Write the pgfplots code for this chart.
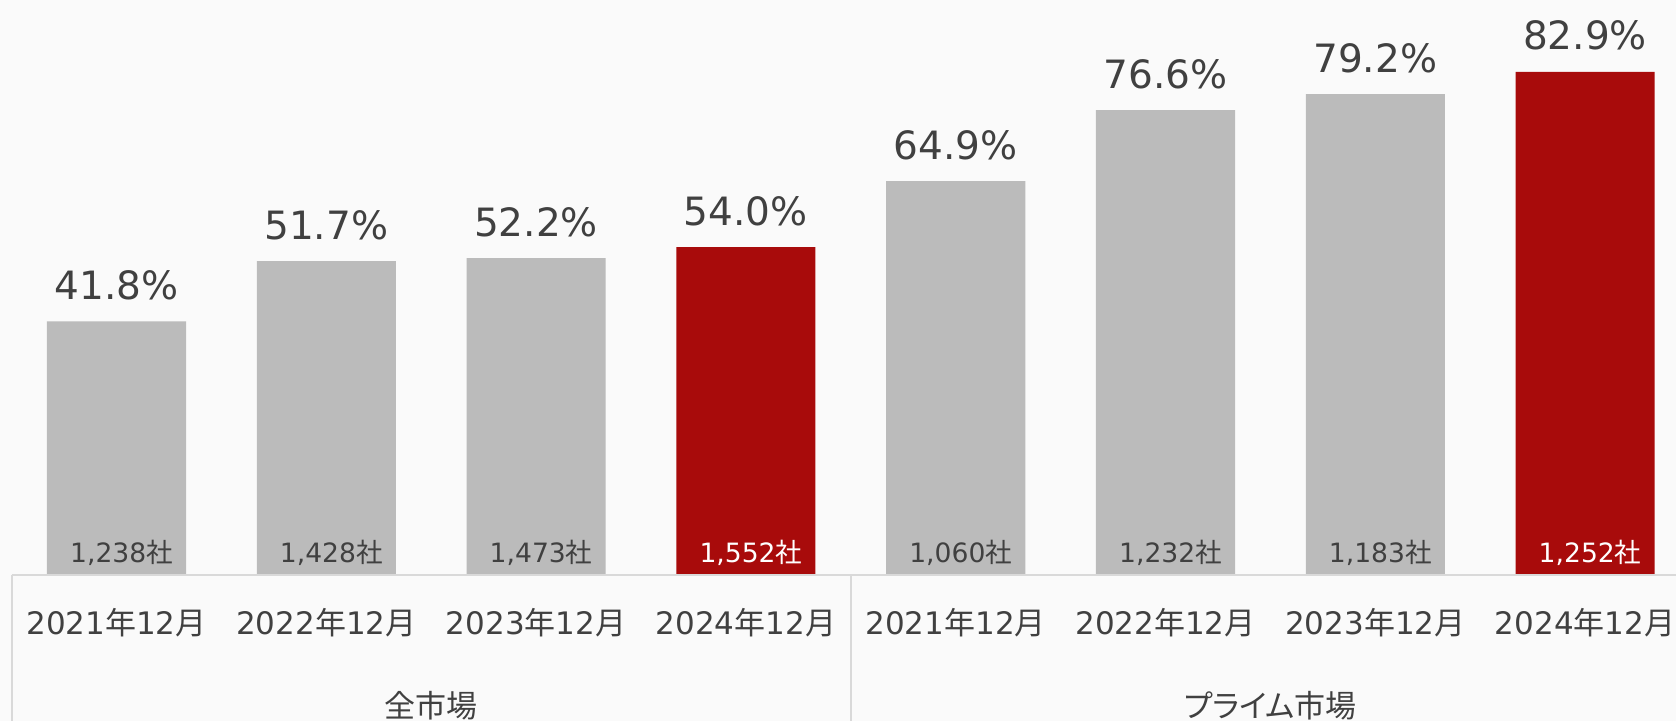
\documentclass[border=0pt]{standalone}
\usepackage{fontspec}
\setmainfont{DejaVu Sans}
\newfontfamily\cjk[RawFeature=+palt]{Noto Sans CJK JP}
\usepackage{pgfplots}
\pgfplotsset{compat=1.18}
\definecolor{bg}{RGB}{250,250,250}
\definecolor{barg}{RGB}{187,187,187}
\definecolor{barr}{RGB}{168,11,11}
\definecolor{txt}{RGB}{64,64,64}
\definecolor{ln}{RGB}{217,217,217}
\newcommand{\ym}[1]{#1{\cjk 年}12{\cjk 月}}
\begin{document}
\begin{tikzpicture}[x=1pt,y=1pt]
\fill[bg] (0,0) rectangle (838,360.5);
\begin{axis}[
  at={(5.8pt,73pt)}, anchor=south west,
  width=839.2pt, height=273.15pt, scale only axis,
  xmin=-0.5, xmax=7.5, ymin=0, ymax=90,
  clip=false,
  axis line style={draw=none}, tick style={draw=none},
  ytick=\empty,
  xtick={0,...,7},
  xticklabels={{\ym{2021}},{\ym{2022}},{\ym{2023}},{\ym{2024}},{\ym{2021}},{\ym{2022}},{\ym{2023}},{\ym{2024}}},
  xticklabel style={font=\fontsize{15.5}{18}\selectfont, text=txt, anchor=base, yshift=-30pt},
  /pgf/number format/assume math mode=true,
]
\addplot[ybar, bar width=0.663, bar shift=0pt, fill=barg, draw=none,
  nodes near coords={\pgfmathprintnumber[fixed,fixed zerofill,precision=1]{\pgfplotspointmeta}\%},
  every node near coord/.append style={font=\fontsize{19.5}{22}\selectfont, text=txt, anchor=base, yshift=11pt}]
  coordinates {(0,41.8) (1,51.7) (2,52.2) (4,64.9) (5,76.6) (6,79.2)};
\addplot[ybar, bar width=0.663, bar shift=0pt, fill=barr, draw=none,
  nodes near coords={\pgfmathprintnumber[fixed,fixed zerofill,precision=1]{\pgfplotspointmeta}\%},
  every node near coord/.append style={font=\fontsize{19.5}{22}\selectfont, text=txt, anchor=base, yshift=11pt}]
  coordinates {(3,54.0) (7,82.9)};
\addplot[draw=none, mark=none, point meta=explicit symbolic,
  nodes near coords={\pgfplotspointmeta{\cjk 社}},
  every node near coord/.append style={font=\fontsize{13.3}{16}\selectfont, text=txt, anchor=base, yshift=6pt, xshift=2.5pt}]
  table[meta=l, row sep=\\] {x y l\\ 0 0 1,238\\ 1 0 1,428\\ 2 0 1,473\\ 4 0 1,060\\ 5 0 1,232\\ 6 0 1,183\\};
\addplot[draw=none, mark=none, point meta=explicit symbolic,
  nodes near coords={\pgfplotspointmeta{\cjk 社}},
  every node near coord/.append style={font=\fontsize{13.3}{16}\selectfont, text=white, anchor=base, yshift=6pt, xshift=2.5pt}]
  table[meta=l, row sep=\\] {x y l\\ 3 0 1,552\\ 7 0 1,252\\};
\draw[ln, line width=1pt] (axis cs:-0.5,0) -- (axis cs:7.5,0);
\draw[ln, line width=1pt] (axis cs:-0.5,0) -- (axis cs:-0.5,-25);
\draw[ln, line width=1pt] (axis cs:3.5,0) -- (axis cs:3.5,-25);
\node[font=\cjk\fontsize{15.5}{18}\selectfont, text=txt] at (axis cs:1.5,-21.5) {全市場};
\node[font=\cjk\fontsize{15.5}{18}\selectfont, text=txt] at (axis cs:5.5,-21.5) {プライム市場};
\end{axis}
\pgfresetboundingbox
\useasboundingbox (0,0) rectangle (838,360.5);
\end{tikzpicture}
\end{document}
